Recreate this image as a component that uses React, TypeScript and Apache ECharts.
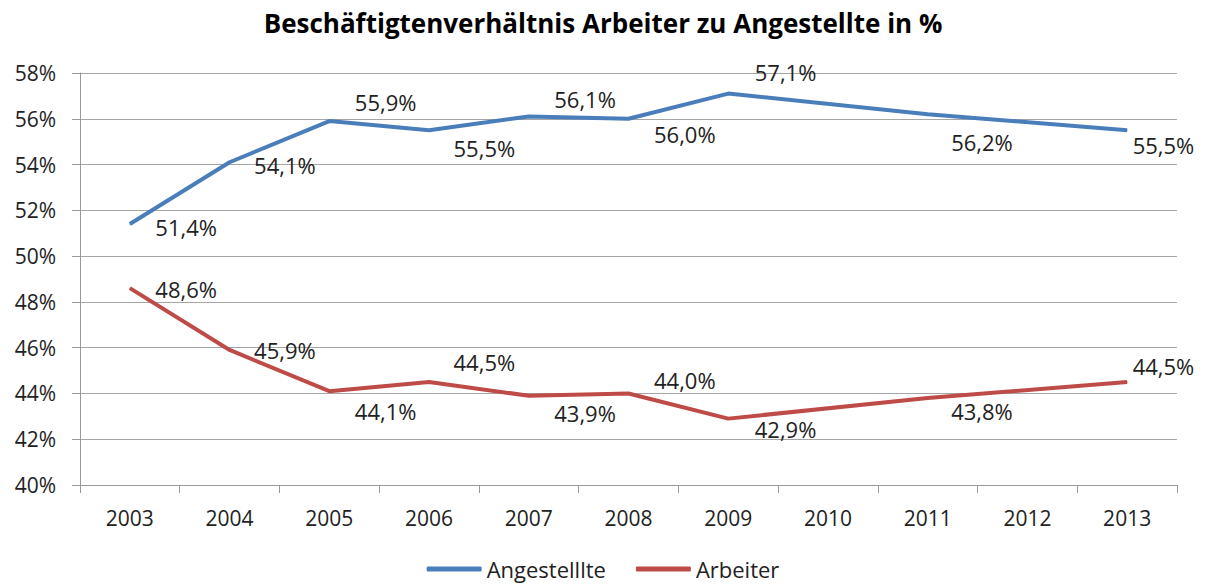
import React, { useEffect, useRef } from "react";
import * as echarts from "echarts";

const titleText = "Beschäftigtenverhältnis Arbeiter zu Angestellte in %";
const years = ["2003", "2004", "2005", "2006", "2007", "2008", "2009", "2010", "2011", "2012", "2013"];
const angestellte: (number | null)[] = [51.4, 54.1, 55.9, 55.5, 56.1, 56.0, 57.1, null, 56.2, null, 55.5];
const arbeiter: (number | null)[] = [48.6, 45.9, 44.1, 44.5, 43.9, 44.0, 42.9, null, 43.8, null, 44.5];
// label offsets (px) as placed in the reference
const angLabelDx = [25, 24, 25, 24, 25, 25, 26, 0, 23, 0, 5];
const angLabelDy = [3, 3, -19, 18, -17, 15, -22, 0, 28, 0, 15];
const arbLabelDx = [25, 24, 25, 24, 25, 25, 26, 0, 23, 0, 5];
const arbLabelDy = [1, 0, 20, -20, 17, -13, 10, 0, 13, 0, -16];

const FONT = "'Open Sans', 'Noto Sans', sans-serif";

function build(values: (number | null)[], dxs: number[], dys: number[]) {
  return values.map((v, i) => ({
    value: v,
    label: { offset: [dxs[i], dys[i]] },
  }));
}

export default function App() {
  const ref = useRef<HTMLDivElement>(null);
  useEffect(() => {
    if (!ref.current) return;
    const chart = echarts.init(ref.current, undefined, { renderer: "svg" });
    const labelCommon = {
      show: true,
      position: "right" as const,
      distance: 0,
      fontFamily: FONT,
      fontSize: 22,
      color: "#222",
      formatter: (p: any) => (p.value == null ? "" : Number(p.value).toFixed(1).replace(".", ",") + "%"),
    };
    chart.setOption({
      animation: false,
      backgroundColor: "#fff",
      title: {
        text: titleText,
        left: "center",
        top: 5,
        textStyle: { fontFamily: FONT, fontSize: 26, fontWeight: "bold", color: "#000" },
      },
      legend: {
        bottom: 2,
        left: "center",
        itemWidth: 55,
        itemHeight: 5,
        itemGap: 30,
        icon: "roundRect",
        textStyle: { fontFamily: FONT, fontSize: 22, color: "#222" },
        data: ["Angestelllte", "Arbeiter"],
      },
      grid: { left: 80, right: 29, top: 73, bottom: 102 },
      xAxis: {
        type: "category",
        data: years,
        boundaryGap: true,
        axisLine: { lineStyle: { color: "#999", width: 1 } },
        axisTick: { show: true, length: 8, lineStyle: { color: "#999" } },
        axisLabel: { fontFamily: FONT, fontSize: 21, color: "#222", margin: 22 },
      },
      yAxis: {
        type: "value",
        min: 40,
        max: 58,
        interval: 2,
        axisLine: { show: true, lineStyle: { color: "#999", width: 1 } },
        axisTick: { show: true, length: 8, lineStyle: { color: "#999" } },
        splitLine: { lineStyle: { color: "#a6a6a6", width: 1 } },
        axisLabel: { fontFamily: FONT, fontSize: 21, color: "#222", margin: 24, formatter: "{value}%" },
      },
      series: [
        {
          name: "Angestelllte",
          type: "line",
          data: build(angestellte, angLabelDx, angLabelDy),
          connectNulls: true,
          symbol: "circle",
          symbolSize: 1,
          showSymbol: true,
          lineStyle: { width: 4, color: "#4a7ebb" },
          itemStyle: { color: "#4a7ebb" },
          label: labelCommon,
        },
        {
          name: "Arbeiter",
          type: "line",
          data: build(arbeiter, arbLabelDx, arbLabelDy),
          connectNulls: true,
          symbol: "circle",
          symbolSize: 1,
          showSymbol: true,
          lineStyle: { width: 4, color: "#be4b48" },
          itemStyle: { color: "#be4b48" },
          label: labelCommon,
        },
      ],
    });
    return () => chart.dispose();
  }, []);
  return <div ref={ref} style={{ position: "absolute", left: 0, top: 0, width: 1206, height: 587 }} />;
}
